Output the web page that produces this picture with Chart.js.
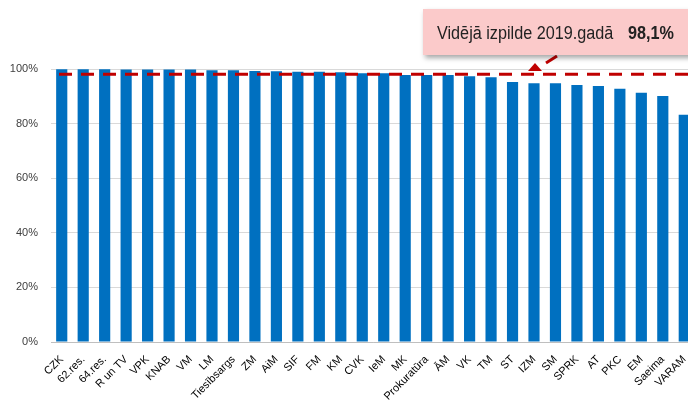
<!DOCTYPE html>
<html>
<head>
<meta charset="utf-8">
<script src="https://cdn.jsdelivr.net/npm/chart.js@4/dist/chart.umd.min.js"></script>
<style>
  html, body { margin: 0; padding: 0; background: #fff; overflow: hidden; }
  #wrap { width: 700px; height: 402px; }
</style>
</head>
<body>
<div id="wrap"><canvas id="chart" width="700" height="402"></canvas></div>
<script>
const labels = ["CZK", "62.res.", "64.res.", "R un TV", "VPK", "KNAB", "VM", "LM", "Tiesībsargs", "ZM",
  "AiM", "SIF", "FM", "KM", "CVK", "IeM", "MK", "Prokuratūra", "ĀM", "VK",
  "TM", "ST", "IZM", "SM", "SPRK", "AT", "PKC", "EM", "Saeima", "VARAM"];
const values = [99.9, 99.9, 99.9, 99.8, 99.8, 99.8, 99.8, 99.5, 99.5, 99.3,
  99.2, 99.0, 99.0, 98.8, 98.4, 98.4, 97.8, 97.8, 97.8, 97.3,
  97.0, 95.2, 94.8, 94.8, 94.1, 93.8, 92.8, 91.3, 90.1, 83.2];
const average = 98.1;
const yTicks = [0, 20, 40, 60, 80, 100];

const FONT = "'Liberation Sans', Arial, sans-serif";

// dashed average line + callout box
const averagePlugin = {
  id: "average",
  afterDatasetsDraw(chart) {
    const { ctx, chartArea } = chart;
    const y = chart.scales.y.getPixelForValue(average);
    ctx.save();
    ctx.strokeStyle = "#C00000";
    ctx.lineWidth = 3;
    ctx.setLineDash([13, 9]);
    ctx.lineDashOffset = -8;
    ctx.beginPath();
    ctx.moveTo(chartArea.left, y);
    ctx.lineTo(chartArea.right, y);
    ctx.stroke();

    // callout pointer
    ctx.setLineDash([]);
    ctx.lineWidth = 3;
    ctx.beginPath();
    ctx.moveTo(557, 56);
    ctx.lineTo(546, 63);
    ctx.stroke();
    ctx.fillStyle = "#C00000";
    ctx.beginPath();
    ctx.moveTo(535, 63);
    ctx.lineTo(542, 71);
    ctx.lineTo(528, 71);
    ctx.closePath();
    ctx.fill();

    // box
    ctx.shadowColor = "rgba(0,0,0,0.35)";
    ctx.shadowBlur = 5;
    ctx.shadowOffsetX = 2;
    ctx.shadowOffsetY = 3;
    ctx.fillStyle = "#FBCACA";
    ctx.fillRect(423, 9, 270, 46);
    ctx.shadowColor = "transparent";

    // narrow-looking text
    ctx.fillStyle = "#222";
    ctx.textBaseline = "alphabetic";
    ctx.font = "18px " + FONT;
    ctx.save();
    ctx.translate(437, 39);
    ctx.scale(0.9, 1);
    ctx.fillText("Vidējā izpilde 2019.gadā", 0, 0);
    ctx.restore();
    ctx.font = "bold 18px " + FONT;
    ctx.save();
    ctx.translate(628, 39);
    ctx.scale(0.9, 1);
    ctx.fillText(average.toFixed(1).replace(".", ",") + "%", 0, 0);
    ctx.restore();
    ctx.restore();
  }
};

new Chart(document.getElementById("chart"), {
  type: "bar",
  data: {
    labels: labels,
    datasets: [{
      data: values,
      backgroundColor: "#0070C0",
      categoryPercentage: 1,
      barPercentage: 0.52
    }]
  },
  options: {
    responsive: false,
    animation: false,
    layout: { padding: { top: 69, right: 5, left: 0, bottom: 0 } },
    plugins: { legend: { display: false }, tooltip: { enabled: false } },
    scales: {
      x: {
        grid: { display: false },
        border: { color: "#BFBFBF" },
        ticks: {
          color: "#000",
          font: { family: FONT, size: 11 },
          minRotation: 45,
          maxRotation: 45,
          autoSkip: false,
          padding: 3
        },
        afterFit(scale) { scale.height = 60; }
      },
      y: {
        min: 0,
        max: 100,
        afterBuildTicks(scale) { scale.ticks = yTicks.map(v => ({ value: v })); },
        grid: { color: "#D9D9D9", drawTicks: false },
        border: { display: false },
        ticks: {
          color: "#404040",
          font: { family: FONT, size: 11 },
          padding: 13,
          callback: v => v + "%"
        },
        afterFit(scale) { scale.width = 51; }
      }
    }
  },
  plugins: [averagePlugin]
});
</script>
</body>
</html>
